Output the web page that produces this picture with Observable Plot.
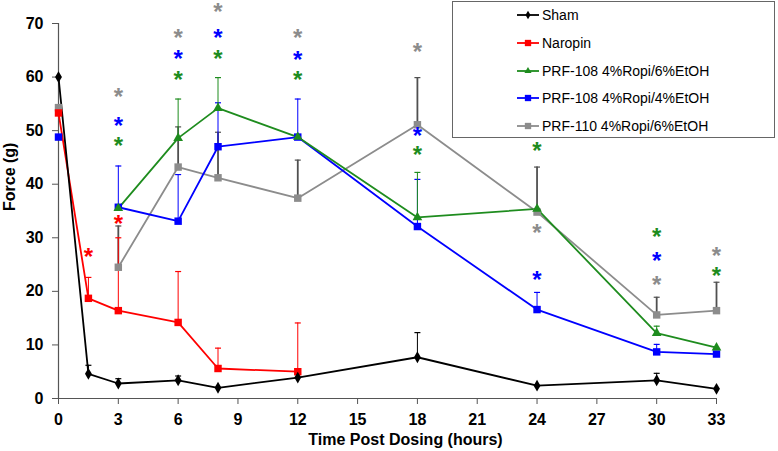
<!DOCTYPE html>
<html>
<head>
<meta charset="utf-8">
<script src="https://cdn.jsdelivr.net/npm/d3@7"></script>
<script src="https://cdn.jsdelivr.net/npm/@observablehq/plot@0.6"></script>
<style>
  html, body { margin: 0; padding: 0; background: #fff; }
  #wrap { position: relative; width: 778px; height: 451px; font-family: "Liberation Sans", Arial, sans-serif; }
  #legend { position: absolute; left: 452px; top: 1px; width: 323px; height: 137px; border: 1px solid #666; background: #fff; box-sizing: border-box; }
  .row { position: absolute; left: 63px; height: 20px; display: flex; align-items: center; font-size: 14px; color: #000; white-space: nowrap; }
  .row svg { margin-right: 2px; }
</style>
</head>
<body>
<div id="wrap"><div id="legend"></div></div>
<script>
// ---------- data ----------
const seriesNames = ["Sham", "Naropin", "PRF-108 4%Ropi/6%EtOH", "PRF-108 4%Ropi/4%EtOH", "PRF-110 4%Ropi/6%EtOH"];
const seriesColors = ["#000000", "#ff0000", "#1e8c1e", "#0000ff", "#8c8c8c"];
const errColors = ["#000000", "#ff0000", "#1e8c1e", "#0000ff", "#505050"];
const seriesSymbols = ["diamond", "square", "triangle", "square", "square"];

const shamTimes = [0, 1.5, 3, 6, 8, 12, 18, 24, 30, 33];
const shamMean  = [60, 4.6, 2.8, 3.4, 2.0, 3.9, 7.7, 2.4, 3.4, 1.8];
const shamErr   = [0, 1.6, 0.9, 0.8, 0, 0, 4.6, 0, 1.3, 0];

const naropinTimes = [0, 1.5, 3, 6, 8, 12];
const naropinMean  = [53.3, 18.7, 16.4, 14.2, 5.6, 5.0];
const naropinErr   = [0, 3.9, 13.6, 9.5, 3.8, 9.1];

const prf108e6Times = [3, 6, 8, 12, 18, 24, 30, 33];
const prf108e6Mean  = [35.5, 48.6, 54.2, 48.8, 33.8, 35.4, 12.2, 9.5];
const prf108e6Err   = [0, 7.3, 5.7, 0, 8.4, 0, 1.3, 0];

const prf108e4Times = [0, 3, 6, 8, 12, 18, 24, 30, 33];
const prf108e4Mean  = [48.8, 35.7, 33.1, 47.0, 48.8, 32.1, 16.6, 8.7, 8.3];
const prf108e4Err   = [0, 7.7, 8.7, 8.2, 7.1, 8.8, 3.2, 1.4, 0];

const prf110Times = [0, 3, 6, 8, 12, 18, 24, 30, 33];
const prf110Mean  = [54.3, 24.5, 43.2, 41.2, 37.4, 51.1, 34.8, 15.6, 16.4];
const prf110Err   = [0, 7.7, 7.5, 8.5, 7.1, 8.8, 8.4, 3.3, 5.3];

// first time point included in the connecting line
const lineStart = [0, 0, 3, 3, 3];

// significance asterisks (series index, time, value)
const starSeries = [1, 1, 4, 3, 2, 4, 3, 2, 4, 3, 2, 4, 3, 2, 4, 3, 2, 2, 4, 3, 2, 3, 4, 4, 2];
const starTimes  = [1.5, 3, 3, 3, 3, 6, 6, 6, 8, 8, 8, 12, 12, 12, 18, 18, 18, 24, 24, 24, 30, 30, 30, 33, 33];
const starValues = [27.5, 33.6, 57.4, 51.9, 48.2, 68.4, 64.4, 60.5, 73.2, 68.4, 64.5, 68.4, 64.2, 60.5, 65.7, 50.0, 46.6, 47.2, 32.0, 23.1, 31.2, 26.7, 22.3, 27.6, 24.0];

const xTicks = [0, 3, 6, 9, 12, 15, 18, 21, 24, 27, 30, 33];
const yTicks = [0, 10, 20, 30, 40, 50, 60, 70];

// ---------- build tables ----------
const groups = [
  [shamTimes, shamMean, shamErr],
  [naropinTimes, naropinMean, naropinErr],
  [prf108e6Times, prf108e6Mean, prf108e6Err],
  [prf108e4Times, prf108e4Mean, prf108e4Err],
  [prf110Times, prf110Mean, prf110Err]
];
const rows = [];
groups.forEach(([ts, ms, es], i) => {
  ts.forEach((t, j) => rows.push({s: i, name: seriesNames[i], t, y: ms[j], err: es[j]}));
});
const lineRows = rows.filter(d => d.t >= lineStart[d.s]);
const errRows = rows.filter(d => d.err > 0);
const stars = starTimes.map((t, i) => ({t, y: starValues[i], s: starSeries[i]}));

const capSymbol = { draw(ctx, size) { ctx.moveTo(-3, 0); ctx.lineTo(3, 0); } };
const font = "'Liberation Sans', Arial, sans-serif";
const drawOrder = [4, 3, 2, 1, 0];

const marks = [
  Plot.ruleX([0], {y1: 0, y2: 70, stroke: "#555", strokeWidth: 1.2}),
  Plot.ruleY([0], {x1: 0, x2: 33, stroke: "#555", strokeWidth: 1.2}),
  Plot.axisY({ticks: yTicks, tickSize: 6, tickPadding: 9, fontSize: 16, fontWeight: "bold", stroke: "#555", label: null}),
  Plot.axisX({ticks: xTicks, tickSize: 6, tickPadding: 9, fontSize: 16, fontWeight: "bold", stroke: "#555", label: null}),
];
for (const i of drawOrder) {
  const er = errRows.filter(d => d.s === i);
  marks.push(
    Plot.ruleX(er, {x: "t", y1: "y", y2: d => d.y + d.err, stroke: errColors[i], strokeWidth: i === 4 ? 1.8 : 1}),
    Plot.dot(er, {x: "t", y: d => d.y + d.err, symbol: capSymbol, stroke: errColors[i], strokeWidth: 1.2, fill: "none", r: 3})
  );
}
for (const i of drawOrder) {
  marks.push(Plot.line(lineRows.filter(d => d.s === i), {x: "t", y: "y", stroke: seriesColors[i], strokeWidth: 1.8}));
}
for (const i of drawOrder) {
  const rr = rows.filter(d => d.s === i);
  const r = seriesSymbols[i] === "square" ? 4.2 : 3.6;
  marks.push(Plot.dot(rr, {x: "t", y: "y", symbol: seriesSymbols[i], fill: seriesColors[i], stroke: "none", r}));
}
marks.push(
  Plot.text(stars, {x: "t", y: "y", text: () => "*", fill: d => seriesColors[d.s], fontSize: 24, fontWeight: "bold", dy: 6}),
  Plot.text(["Force (g)"], {frameAnchor: "left", dx: -49, rotate: -90, fontSize: 16, fontWeight: "bold", fill: "#000"}),
  Plot.text(["Time Post Dosing (hours)"], {frameAnchor: "bottom", dx: 18, dy: 46, fontSize: 16, fontWeight: "bold", fill: "#000"})
);

const chart = Plot.plot({
  width: 778,
  height: 451,
  marginLeft: 58,
  marginRight: 62,
  marginTop: 23,
  marginBottom: 53,
  x: {domain: [0, 33]},
  y: {domain: [0, 70]},
  color: {type: "identity"},
  style: {fontFamily: font, background: "#fff", overflow: "visible"},
  marks
});
document.getElementById("wrap").prepend(chart);

// ---------- legend ----------
const legend = document.getElementById("legend");
const rowTops = [14.3, 42, 69.7, 97.4, 125.1];
seriesNames.forEach((name, i) => {
  const row = document.createElement("div");
  row.className = "row";
  row.style.top = (rowTops[i] - 1 - 10) + "px";
  const sym = d3.symbol(seriesSymbols[i] === "diamond" ? d3.symbolDiamond : seriesSymbols[i] === "triangle" ? d3.symbolTriangle : d3.symbolSquare,
                        seriesSymbols[i] === "square" ? 40 : 22)();
  row.innerHTML = `<svg width="24" height="20"><line x1="1" x2="23" y1="10" y2="10" stroke="${seriesColors[i]}" stroke-width="1.8"/><path transform="translate(12,10)" d="${sym}" fill="${seriesColors[i]}"/></svg><span>${name}</span>`;
  legend.appendChild(row);
});
</script>
</body>
</html>
